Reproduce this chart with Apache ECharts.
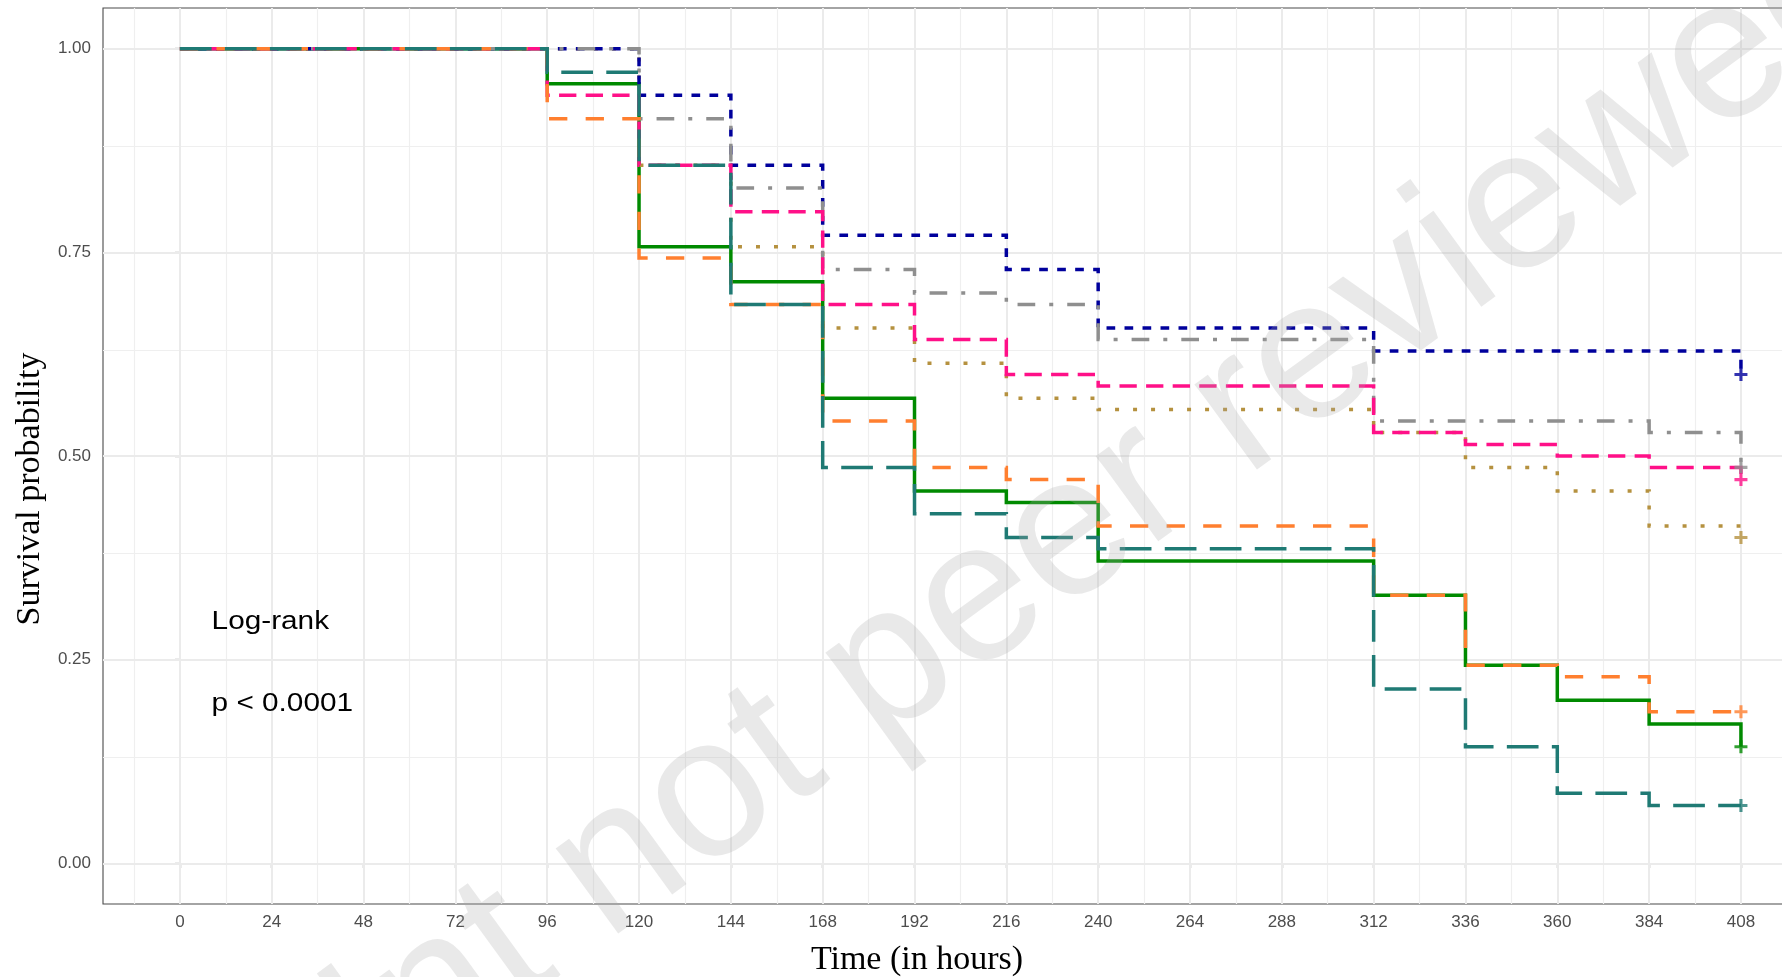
<!DOCTYPE html>
<html>
<head>
<meta charset="utf-8">
<script src="https://cdn.jsdelivr.net/npm/echarts@6/dist/echarts.min.js"></script>
<style>
  html, body { margin: 0; padding: 0; background: #ffffff; }
  #chart { width: 1782px; height: 977px; }
</style>
</head>
<body>
<div id="chart"></div>
<script>
// ---- data ----
const times = [0, 96, 120, 144, 168, 192, 216, 240, 312, 336, 360, 384, 408];

const seriesNames = ['Curve 1', 'Curve 2', 'Curve 3', 'Curve 4', 'Curve 5', 'Curve 6', 'Curve 7'];

const survGreen  = [1, 0.957, 0.757, 0.714, 0.571, 0.457, 0.443, 0.371, 0.329, 0.243, 0.200, 0.171, 0.143];
const survOlive  = [1, 1.000, 0.857, 0.757, 0.657, 0.614, 0.571, 0.557, 0.529, 0.486, 0.457, 0.414, 0.400];
const survBlue   = [1, 1.000, 0.943, 0.857, 0.771, 0.771, 0.729, 0.657, 0.629, 0.629, 0.629, 0.629, 0.600];
const survGray   = [1, 1.000, 0.914, 0.829, 0.729, 0.700, 0.686, 0.643, 0.543, 0.543, 0.543, 0.529, 0.486];
const survPink   = [1, 0.943, 0.857, 0.800, 0.686, 0.643, 0.600, 0.586, 0.529, 0.514, 0.500, 0.486, 0.471];
const survOrange = [1, 0.914, 0.743, 0.686, 0.543, 0.486, 0.471, 0.414, 0.329, 0.243, 0.229, 0.186, 0.186];
const survTeal   = [1, 0.971, 0.857, 0.686, 0.486, 0.429, 0.400, 0.386, 0.214, 0.143, 0.086, 0.071, 0.071];

const xTicks = [0, 24, 48, 72, 96, 120, 144, 168, 192, 216, 240, 264, 288, 312, 336, 360, 384, 408];
const xMinorTicks = [-12, 12, 36, 60, 84, 108, 132, 156, 180, 204, 228, 252, 276, 300, 324, 348, 372, 396, 420];
const yTicks = [0, 0.25, 0.5, 0.75, 1];
const yMinorTicks = [0.125, 0.375, 0.625, 0.875];

const pValueText = 'p < 0.0001';
const testText = 'Log-rank';

// ---- styling ----
const curveDefs = [
  { values: survGreen,  color: '#008a00', dash: 'solid' },
  { values: survOlive,  color: '#b5913f', dash: [4, 14] },
  { values: survBlue,   color: '#00009c', dash: [8.7, 9.3] },
  { values: survGray,   color: '#8f8f8f', dash: [17.7, 14, 4, 14] },
  { values: survPink,   color: '#ff1088', dash: [17.3, 9.3] },
  { values: survOrange, color: '#ff7f2f', dash: [18.3, 18.3] },
  { values: survTeal,   color: '#1f7a74', dash: [31.7, 13.3] }
];

const plusPath = 'path://M-0.12,-0.5 L0.12,-0.5 L0.12,-0.12 L0.5,-0.12 L0.5,0.12 L0.12,0.12 L0.12,0.5 L-0.12,0.5 L-0.12,0.12 L-0.5,0.12 L-0.5,-0.12 L-0.12,-0.12 Z';

const chart = echarts.init(document.getElementById('chart'), null, { renderer: 'canvas' });

const gridLineData = []
  .concat(xMinorTicks.map(v => ({ xAxis: v, lineStyle: { color: '#efefef', width: 1.2, type: 'solid' } })))
  .concat(yMinorTicks.map(v => ({ yAxis: v, lineStyle: { color: '#efefef', width: 1.2, type: 'solid' } })))
  .concat(xTicks.map(v => ({ xAxis: v, lineStyle: { color: '#ebebeb', width: 2, type: 'solid' } })))
  .concat(yTicks.map(v => ({ yAxis: v, lineStyle: { color: '#ebebeb', width: 2, type: 'solid' } })));

const series = [{
  type: 'line',
  name: 'grid',
  data: [[0, 1]],
  showSymbol: false,
  symbol: 'none',
  lineStyle: { opacity: 0 },
  silent: true,
  z: 1,
  markLine: {
    z: 1,
    silent: true,
    symbol: ['none', 'none'],
    label: { show: false },
    emphasis: { disabled: true },
    animation: false,
    data: gridLineData
  }
}];

curveDefs.forEach((c, i) => {
  series.push({
    type: 'line',
    name: seriesNames[i],
    step: 'end',
    data: times.map((t, k) => [t, c.values[k]]),
    showSymbol: false,
    symbol: 'none',
    silent: true,
    z: 10,
    lineStyle: { color: c.color, width: 3.5, type: c.dash, cap: 'butt', join: 'miter' }
  });
});
curveDefs.forEach((c, i) => {
  const last = times.length - 1;
  series.push({
    type: 'scatter',
    name: seriesNames[i] + ' censored',
    data: [[times[last], c.values[last]]],
    symbol: plusPath,
    symbolSize: 13,
    silent: true,
    z: 11,
    itemStyle: { color: c.color }
  });
});

chart.setOption({
  animation: false,
  backgroundColor: '#ffffff',
  grid: {
    left: 103, top: 8, width: 1716, height: 896,
    show: true, borderColor: '#4a4a4a', borderWidth: 1.1, backgroundColor: 'transparent',
    containLabel: false, outerBoundsMode: 'none'
  },
  xAxis: {
    type: 'value', min: -20.1, max: 428.4,
    axisLine: { show: false },
    splitLine: { show: false },
    axisTick: { show: true, customValues: xTicks, length: 5, lineStyle: { color: '#333333', width: 1.2 } },
    axisLabel: { show: true, customValues: xTicks, margin: 10, fontSize: 17, fontFamily: 'Liberation Sans', color: '#4d4d4d' }
  },
  yAxis: {
    type: 'value', min: -0.05, max: 1.05,
    axisLine: { show: false },
    splitLine: { show: false },
    axisTick: { show: true, customValues: yTicks, length: 5, lineStyle: { color: '#333333', width: 1.2 } },
    axisLabel: { show: true, customValues: yTicks, margin: 12, fontSize: 17, fontFamily: 'Liberation Sans', color: '#4d4d4d',
      formatter: v => Number(v).toFixed(2) }
  },
  series: series,
  graphic: [
    { type: 'text', x: 211.6, y: 622, scaleX: 1.19, silent: true, z: 20,
      style: { text: testText, fontSize: 25, fontFamily: 'Liberation Sans', fill: '#000000', align: 'left', verticalAlign: 'middle' } },
    { type: 'text', x: 211.6, y: 704, scaleX: 1.19, silent: true, z: 20,
      style: { text: pValueText, fontSize: 25, fontFamily: 'Liberation Sans', fill: '#000000', align: 'left', verticalAlign: 'middle' } },
    { type: 'text', x: 917, y: 960, silent: true, z: 20,
      style: { text: 'Time (in hours)', fontSize: 34, fontFamily: 'Liberation Serif', fill: '#000000', align: 'center', verticalAlign: 'middle' } },
    { type: 'text', x: 30, y: 489, rotation: Math.PI / 2, silent: true, z: 20,
      style: { text: 'Survival probability', fontSize: 34, fontFamily: 'Liberation Serif', fill: '#000000', align: 'center', verticalAlign: 'middle' } },
    { type: 'text', x: 912, y: 652, rotation: 36 * Math.PI / 180, silent: true, z: 100,
      style: { text: 'Preprint not peer reviewed', fontSize: 200, fontFamily: 'Liberation Sans', fill: 'rgba(170,170,170,0.26)', align: 'center', verticalAlign: 'middle' } }
  ]
});
</script>
</body>
</html>
